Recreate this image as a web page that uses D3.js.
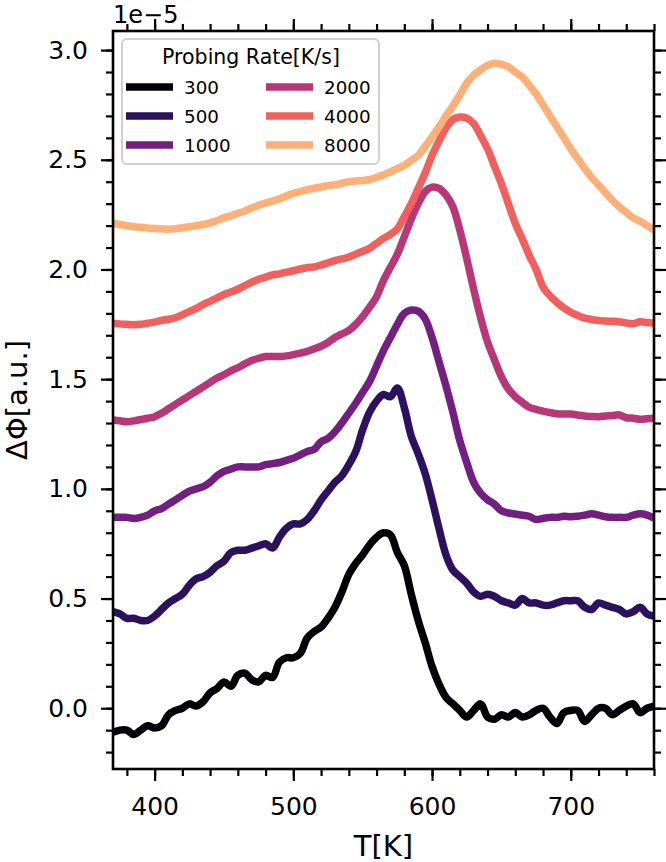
<!DOCTYPE html>
<html>
<head>
<meta charset="utf-8">
<script src="https://cdn.jsdelivr.net/npm/d3@7"></script>
<style>
  html, body { margin: 0; padding: 0; background: #fff; }
  svg { display: block; font-family: 'DejaVu Sans', sans-serif; }
</style>
</head>
<body>
<svg id="chart" width="666" height="862"></svg>
<script>
// temperature grid [K]
const temps = d3.range(370, 761, 5);

// ΔΦ values in units of 1e-5, one array per probing rate
const rate300 = [
  -0.11, -0.10, -0.10, -0.12, -0.10, -0.08, -0.09, -0.08, -0.03, -0.01,
  0.00, 0.02, 0.01, 0.03, 0.07, 0.09, 0.12, 0.10, 0.15, 0.16,
  0.13, 0.12, 0.15, 0.14, 0.21, 0.23, 0.23, 0.25, 0.32, 0.35,
  0.37, 0.41, 0.46, 0.53, 0.61, 0.66, 0.70, 0.745, 0.78, 0.80,
  0.79, 0.71, 0.65, 0.52, 0.40, 0.30, 0.19, 0.11, 0.05, 0.02,
  -0.01, -0.04, -0.01, 0.02, -0.04, -0.05, -0.03, -0.04, -0.02, -0.04,
  -0.03, -0.01, 0.00, -0.04, -0.07, -0.02, -0.01, -0.01, -0.06, -0.03,
  0.00, 0.00, -0.03, -0.01, 0.01, 0.02, -0.02, 0.00, 0.01
];
const rate500 = [
  0.44, 0.43, 0.41, 0.41, 0.40, 0.40, 0.42, 0.45, 0.48, 0.50,
  0.52, 0.56, 0.59, 0.60, 0.62, 0.65, 0.67, 0.71, 0.72, 0.72,
  0.73, 0.74, 0.75, 0.73, 0.78, 0.82, 0.84, 0.84, 0.86, 0.90,
  0.95, 0.99, 1.03, 1.06, 1.11, 1.17, 1.27, 1.35, 1.40, 1.43,
  1.42, 1.46, 1.37, 1.24, 1.16, 1.07, 0.95, 0.82, 0.70, 0.63,
  0.60, 0.57, 0.53, 0.51, 0.52, 0.51, 0.49, 0.48, 0.47, 0.50,
  0.48, 0.48, 0.47, 0.47, 0.48, 0.49, 0.49, 0.49, 0.46, 0.45,
  0.48, 0.47, 0.46, 0.45, 0.43, 0.44, 0.46, 0.43, 0.42
];
const rate1000 = [
  0.87, 0.87, 0.87, 0.865, 0.87, 0.88, 0.90, 0.91, 0.93, 0.95,
  0.97, 0.99, 1.00, 1.01, 1.03, 1.06, 1.08, 1.09, 1.10, 1.10,
  1.10, 1.10, 1.11, 1.115, 1.12, 1.13, 1.14, 1.155, 1.17, 1.18,
  1.215, 1.23, 1.26, 1.30, 1.345, 1.39, 1.44, 1.49, 1.56, 1.63,
  1.69, 1.75, 1.80, 1.815, 1.81, 1.775, 1.69, 1.58, 1.47, 1.35,
  1.22, 1.12, 1.03, 0.98, 0.95, 0.93, 0.90, 0.89, 0.885, 0.88,
  0.875, 0.86, 0.865, 0.87, 0.87, 0.875, 0.873, 0.875, 0.88, 0.886,
  0.88, 0.873, 0.87, 0.87, 0.87, 0.88, 0.886, 0.88, 0.866
];
const rate2000 = [
  1.314, 1.31, 1.306, 1.31, 1.316, 1.322, 1.329, 1.345, 1.365, 1.385,
  1.405, 1.425, 1.445, 1.465, 1.485, 1.505, 1.52, 1.538, 1.552, 1.57,
  1.585, 1.595, 1.603, 1.603, 1.603, 1.606, 1.612, 1.619, 1.627, 1.638,
  1.65, 1.667, 1.69, 1.706, 1.722, 1.75, 1.785, 1.828, 1.876, 1.95,
  2.01, 2.07, 2.149, 2.23, 2.30, 2.355, 2.375, 2.37, 2.34, 2.286,
  2.18, 2.05, 1.91, 1.78, 1.67, 1.588, 1.511, 1.455, 1.42, 1.395,
  1.372, 1.362, 1.354, 1.348, 1.342, 1.341, 1.341, 1.337, 1.332, 1.33,
  1.329, 1.332, 1.334, 1.337, 1.324, 1.322, 1.317, 1.32, 1.322
];
const rate4000 = [
  1.755, 1.752, 1.75, 1.748, 1.75, 1.755, 1.76, 1.768, 1.773, 1.78,
  1.793, 1.808, 1.823, 1.84, 1.855, 1.87, 1.886, 1.897, 1.91, 1.926,
  1.942, 1.955, 1.965, 1.975, 1.98, 1.988, 1.994, 2.002, 2.008, 2.012,
  2.02, 2.03, 2.04, 2.048, 2.057, 2.07, 2.083, 2.097, 2.119, 2.142,
  2.16, 2.185, 2.241, 2.30, 2.37, 2.44, 2.52, 2.585, 2.645, 2.683,
  2.695, 2.69, 2.665, 2.61, 2.55, 2.47, 2.39, 2.30, 2.21, 2.14,
  2.065, 2.00, 1.92, 1.88, 1.85, 1.825, 1.805, 1.79, 1.778, 1.772,
  1.768, 1.765, 1.764, 1.762, 1.756, 1.753, 1.762, 1.758, 1.755
];
const rate8000 = [
  2.211, 2.205, 2.2, 2.195, 2.192, 2.189, 2.187, 2.185, 2.183, 2.186,
  2.19, 2.195, 2.2, 2.205, 2.212, 2.223, 2.235, 2.245, 2.256, 2.267,
  2.28, 2.293, 2.302, 2.312, 2.322, 2.335, 2.347, 2.355, 2.364, 2.37,
  2.376, 2.382, 2.386, 2.393, 2.40, 2.403, 2.406, 2.41, 2.42, 2.431,
  2.445, 2.46, 2.475, 2.497, 2.52, 2.56, 2.605, 2.65, 2.70, 2.745,
  2.795, 2.85, 2.885, 2.91, 2.93, 2.94, 2.935, 2.924, 2.90, 2.877,
  2.84, 2.80, 2.75, 2.70, 2.65, 2.60, 2.55, 2.505, 2.46, 2.42,
  2.385, 2.35, 2.315, 2.285, 2.26, 2.235, 2.22, 2.2, 2.18
];

const rates = ['300', '500', '1000', '2000', '4000', '8000'];
const seriesValues = [rate300, rate500, rate1000, rate2000, rate4000, rate8000];
const colors = ['#000004', '#2c115f', '#721f81', '#b73779', '#f1605d', '#feb078'];

const xMajor = [400, 500, 600, 700];
const xMinor = d3.range(380, 761, 20);
const yMajor = [0, 0.5, 1.0, 1.5, 2.0, 2.5, 3.0];
const yMinor = d3.range(-2, 31).map(d => d / 10);

let margin = {top: 31, right: 12, bottom: 93, left: 113};
let width = 666 - margin.left - margin.right;
let height = 862 - margin.top - margin.bottom;

let x = d3.scaleLinear().domain([370, 760]).range([0, width]);
let y = d3.scaleLinear().domain([-0.277, 3.087]).range([height, 0]);

let svg = d3.select('#chart')
  .append('g')
    .attr('transform', 'translate(' + margin.left + ',' + margin.top + ')');

svg.append('defs').append('clipPath')
    .attr('id', 'plot-clip')
  .append('rect')
    .attr('width', width)
    .attr('height', height);

// the curves
let line = d3.line()
  .x((d, i) => x(temps[i]))
  .y(d => y(d))
  .curve(d3.curveCatmullRom.alpha(0.5));

svg.append('g')
    .attr('clip-path', 'url(#plot-clip)')
  .selectAll('path')
  .data(seriesValues)
  .join('path')
    .attr('d', line)
    .style('fill', 'none')
    .style('stroke', (d, i) => colors[i])
    .style('stroke-width', 7.5)
    .style('stroke-linejoin', 'round')
    .style('stroke-linecap', 'butt');

// ticks on all four sides, pointing out
let styleAxis = (g, fontSize) => {
  g.select('.domain').remove();
  g.selectAll('.tick line').style('stroke', '#000').style('stroke-width', 2.2);
  g.selectAll('.tick text')
    .style('font-family', "'DejaVu Sans', sans-serif")
    .style('font-size', fontSize + 'px')
    .style('fill', '#000');
};

let fmt = d3.format('.1f');

svg.append('g')
    .attr('transform', 'translate(0,' + height + ')')
    .call(d3.axisBottom(x).tickValues(xMinor).tickSize(7).tickFormat(''))
    .call(g => styleAxis(g, 25));
svg.append('g')
    .attr('transform', 'translate(0,' + height + ')')
    .call(d3.axisBottom(x).tickValues(xMajor).tickSize(12).tickPadding(16).tickFormat(d3.format('d')))
    .call(g => styleAxis(g, 25));
svg.append('g')
    .call(d3.axisTop(x).tickValues(xMinor).tickSize(7).tickFormat(''))
    .call(g => styleAxis(g, 25));
svg.append('g')
    .call(d3.axisTop(x).tickValues(xMajor).tickSize(12).tickFormat(''))
    .call(g => styleAxis(g, 25));

svg.append('g')
    .call(d3.axisLeft(y).tickValues(yMinor).tickSize(7).tickFormat(''))
    .call(g => styleAxis(g, 25));
svg.append('g')
    .call(d3.axisLeft(y).tickValues(yMajor).tickSize(12).tickPadding(13).tickFormat(fmt))
    .call(g => styleAxis(g, 25));
svg.append('g')
    .attr('transform', 'translate(' + width + ',0)')
    .call(d3.axisRight(y).tickValues(yMinor).tickSize(7).tickFormat(''))
    .call(g => styleAxis(g, 25));
svg.append('g')
    .attr('transform', 'translate(' + width + ',0)')
    .call(d3.axisRight(y).tickValues(yMajor).tickSize(12).tickFormat(''))
    .call(g => styleAxis(g, 25));

// frame
svg.append('rect')
    .attr('width', width)
    .attr('height', height)
    .style('fill', 'none')
    .style('stroke', '#000')
    .style('stroke-width', 2.6);

// offset text and axis labels
svg.append('text')
    .attr('x', 0)
    .attr('y', -8)
    .style('font-size', '24px')
    .text('1e\u22125');

svg.append('text')
    .attr('x', width / 2)
    .attr('y', height + 87)
    .attr('text-anchor', 'middle')
    .style('font-size', '29px')
    .text('T[K]');

svg.append('text')
    .attr('transform', 'translate(' + (27 - margin.left) + ',' + (height / 2) + ') rotate(-90)')
    .attr('text-anchor', 'middle')
    .style('font-size', '29px')
    .text('\u0394\u03a6[a.u.]');

// legend
let legend = svg.append('g')
    .attr('transform', 'translate(9,8)');

legend.append('rect')
    .attr('width', 257)
    .attr('height', 125)
    .attr('rx', 5)
    .style('fill', '#fff')
    .style('fill-opacity', 0.8)
    .style('stroke', '#d0d0d0')
    .style('stroke-width', 2);

legend.append('text')
    .attr('x', 129)
    .attr('y', 25)
    .attr('text-anchor', 'middle')
    .style('font-size', '20.5px')
    .text('Probing Rate[K/s]');

let entries = legend.selectAll('g.entry')
  .data(rates)
  .join('g')
    .attr('class', 'entry')
    .attr('transform', (d, i) => {
      let col = Math.floor(i / 3);
      let row = i % 3;
      return 'translate(' + (4 + col * 140) + ',' + (48 + row * 29) + ')';
    });

entries.append('line')
    .attr('x1', 0)
    .attr('x2', 47)
    .style('stroke', (d, i) => colors[i])
    .style('stroke-width', 7.5);

entries.append('text')
    .attr('x', 58)
    .attr('dy', '0.36em')
    .style('font-size', '18.3px')
    .text(d => d);
</script>
</body>
</html>
